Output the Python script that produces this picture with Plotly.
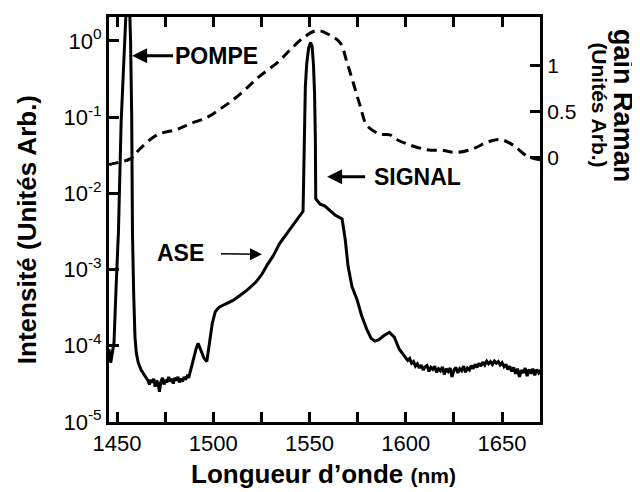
import plotly.graph_objects as go

# ---- Intensity spectrum (solid, left log axis) ----
wl_int = [1445.8, 1446.7, 1447.5, 1448.4, 1449.5, 1450.7, 1452.1, 1453.2, 1454.2, 1455.2, 1456.2,
          1457.0, 1457.6, 1458.0, 1458.6, 1459.3, 1460.0, 1461.0, 1462.5, 1464.0,
          1465.0, 1466.0, 1466.8, 1467.5, 1468.3, 1469.0, 1469.8, 1470.5, 1471.3, 1472.0,
          1472.8, 1473.6, 1474.4, 1475.2, 1476.0, 1476.8, 1477.6, 1478.4, 1479.2, 1480.0,
          1480.8, 1481.6, 1482.4, 1483.2, 1484.0, 1484.8, 1485.6, 1486.4, 1487.2, 1488.0,
          1489.0, 1490.0, 1491.0, 1492.1, 1493.5, 1495.0, 1496.6, 1498.0, 1499.5, 1501.0,
          1503.0, 1506.0, 1510.0, 1514.0, 1518.0, 1522.0, 1525.0, 1528.0, 1531.0, 1534.5,
          1538.0, 1541.0, 1544.0, 1546.6, 1547.0, 1547.3, 1547.8, 1548.5, 1549.5, 1550.5,
          1551.3, 1552.0, 1552.6, 1553.0, 1553.2, 1555.5, 1558.0, 1563.2, 1566.9, 1568.5,
          1570.0, 1572.0, 1574.7, 1577.0, 1579.9, 1582.0, 1584.0, 1586.0, 1588.5, 1591.5,
          1594.0, 1596.6, 1599.0,
          1600, 1601, 1602, 1603, 1604, 1605, 1606, 1607, 1608, 1609, 1610, 1611, 1612, 1613,
          1614, 1615, 1616, 1617, 1618, 1619, 1620, 1621, 1622, 1623, 1624, 1625, 1626, 1627,
          1628, 1629, 1630, 1631, 1632, 1633, 1634, 1635, 1636, 1637, 1638, 1639, 1640, 1641,
          1642, 1643, 1644, 1645, 1646, 1647, 1648, 1649, 1650, 1651, 1652, 1653, 1654, 1655,
          1656, 1657, 1658, 1659, 1660, 1661, 1662, 1663, 1664, 1665, 1666, 1667, 1668, 1669, 1670]
intensity = [9e-5, 6e-5, 8e-5, 1.1e-4, 6e-4, 3.1e-3, 8.5e-2, 0.5, 2.0, 5.0, 5.0,
             1.0, 0.1, 3e-3, 5e-4, 1.3e-4, 8e-5, 6e-5, 4.8e-5, 4.2e-5,
             3.8e-5, 3.5e-5, 3.1e-5, 3.6e-5, 3.3e-5, 3.7e-5, 2.9e-5, 3.5e-5, 3.2e-5, 2.5e-5,
             3.4e-5, 3.8e-5, 3.1e-5, 3.6e-5, 3.3e-5, 3.9e-5, 3.4e-5, 3.7e-5, 3.2e-5, 3.8e-5,
             3.5e-5, 3.9e-5, 3.3e-5, 3.7e-5, 3.4e-5, 3.9e-5, 3.6e-5, 4.0e-5, 3.8e-5, 4.6e-5,
             5.5e-5, 7e-5, 9e-5, 1.08e-4, 8.5e-5, 7e-5, 6.2e-5, 1.1e-4, 2.0e-4, 2.8e-4,
             3.2e-4, 3.5e-4, 3.9e-4, 4.6e-4, 5.5e-4, 6.8e-4, 8.5e-4, 1.15e-3, 1.5e-3, 2.2e-3,
             2.9e-3, 3.7e-3, 4.7e-3, 5.8e-3, 2e-2, 0.08, 0.25, 0.5, 0.8, 0.95,
             0.85, 0.5, 0.2, 0.05, 8.5e-3, 7.2e-3, 6.8e-3, 5.2e-3, 4.6e-3, 2.5e-3,
             1.1e-3, 6e-4, 4e-4, 2.5e-4, 1.6e-4, 1.25e-4, 1.15e-4, 1.2e-4, 1.35e-4, 1.5e-4,
             1.3e-4, 9e-5, 7.5e-5,
             7.0e-5, 6.4e-5, 6.8e-5, 5.9e-5, 6.2e-5, 5.4e-5, 5.8e-5, 5.1e-5, 5.6e-5, 4.8e-5,
             5.3e-5, 5.5e-5, 4.6e-5, 5.2e-5, 4.9e-5, 5.4e-5, 4.5e-5, 5.0e-5, 4.7e-5, 5.3e-5,
             4.2e-5, 5.0e-5, 4.6e-5, 5.1e-5, 3.9e-5, 4.8e-5, 5.2e-5, 4.4e-5, 5.0e-5, 4.7e-5,
             5.4e-5, 4.5e-5, 5.1e-5, 4.8e-5, 5.5e-5, 5.0e-5, 5.7e-5, 5.2e-5, 5.9e-5, 5.4e-5,
             6.1e-5, 5.6e-5, 6.3e-5, 5.8e-5, 6.2e-5, 5.7e-5, 6.3e-5, 5.9e-5, 6.2e-5, 5.6e-5,
             6.0e-5, 5.3e-5, 5.7e-5, 4.9e-5, 5.4e-5, 4.6e-5, 5.2e-5, 4.3e-5, 5.0e-5, 3.9e-5,
             4.8e-5, 4.4e-5, 5.1e-5, 4.0e-5, 4.9e-5, 4.3e-5, 5.0e-5, 4.1e-5, 4.9e-5, 4.4e-5, 4.8e-5]

# ---- Raman gain (dashed, right linear axis) ----
wl_gain = [1445.8, 1446.4, 1456.8, 1461.9, 1470.8, 1481.2, 1487.9, 1496.8, 1503.5, 1510.3,
           1517.5, 1524.3, 1533.1, 1539.9, 1546.6, 1553.9, 1560.6, 1565.8, 1569.5, 1572.6,
           1576.2, 1579.9, 1586.6, 1591.8, 1595.3, 1602.2, 1611.0, 1619.4, 1626.6, 1635.0,
           1642.2, 1649.0, 1655.7, 1663.0, 1669.7]
gain = [-0.08, -0.07, -0.01, 0.10, 0.25, 0.31, 0.37, 0.44, 0.53, 0.63,
        0.76, 0.89, 1.03, 1.17, 1.30, 1.38, 1.33, 1.25, 1.03, 0.82,
        0.57, 0.35, 0.26, 0.25, 0.20, 0.14, 0.09, 0.08, 0.06, 0.10,
        0.17, 0.20, 0.14, 0.02, -0.02]

# ---- Axis ticks ----
y_tickvals = [1e-5, 1e-4, 1e-3, 1e-2, 1e-1, 1]
y_ticktext = ["10<sup>-5</sup>", "10<sup>-4</sup>", "10<sup>-3</sup>",
              "10<sup>-2</sup>", "10<sup>-1</sup>", "10<sup>0</sup>"]
y2_tickvals = [0, 0.5, 1]
y2_ticktext = ["0", "0.5", "1"]

FONT = "Arial, Liberation Sans, Helvetica, sans-serif"

fig = go.Figure()
fig.add_trace(go.Scatter(x=wl_int, y=intensity, mode="lines",
                         line=dict(color="black", width=3), yaxis="y", showlegend=False))
fig.add_trace(go.Scatter(x=wl_gain, y=gain, mode="lines", line_shape="spline",
                         line=dict(color="black", width=3, dash="10px,6px"),
                         yaxis="y2", showlegend=False))

# page body has an 8px margin, so the figure is 8px smaller on each axis
fig.update_layout(
    width=632, height=484,
    margin=dict(l=101, r=100, t=6, b=70),
    paper_bgcolor="white", plot_bgcolor="white",
    font=dict(family=FONT, color="black", size=22),
    xaxis=dict(range=[1445.8, 1669.7], tickmode="linear", tick0=1450, dtick=50,
               ticks="inside", ticklen=10, tickwidth=2.5, tickcolor="black",
               minor=dict(dtick=25, tick0=1450, ticks="inside", ticklen=10, tickwidth=2.5,
                          tickcolor="black", showgrid=False),
               showline=True, linewidth=3, linecolor="black", mirror="ticks",
               showgrid=False, zeroline=False, tickfont=dict(size=22)),
    yaxis=dict(type="log", range=[-5, 0.3125], tickvals=y_tickvals, ticktext=y_ticktext,
               ticks="inside", ticklen=10, tickwidth=2.5, tickcolor="black",
               showline=True, linewidth=3, linecolor="black",
               showgrid=False, zeroline=False, tickfont=dict(size=22)),
    yaxis2=dict(overlaying="y", side="right", range=[-2.86, 1.527],
                tickvals=y2_tickvals, ticktext=y2_ticktext,
                ticks="inside", ticklen=10, tickwidth=2.5, tickcolor="black",
                showline=True, linewidth=3, linecolor="black",
                showgrid=False, zeroline=False, tickfont=dict(size=21)),
)

ann = []
# axis titles
ann.append(dict(xref="paper", yref="paper", x=0.4977, y=-0.1275, xanchor="center", yanchor="middle",
                text="<b>Longueur d’onde </b><b><span style='font-size:21px'>(nm)</span></b>",
                showarrow=False, font=dict(size=26)))
ann.append(dict(xref="paper", yref="paper", x=-0.190, y=0.474, xanchor="center", yanchor="middle",
                text="<b>Intensité (Unités Arb.)</b>", textangle=-90,
                showarrow=False, font=dict(size=26)))
ann.append(dict(xref="paper", yref="paper", x=1.193, y=0.782, xanchor="center", yanchor="middle",
                text="<b>gain Raman</b>", textangle=90, showarrow=False, font=dict(size=27)))
ann.append(dict(xref="paper", yref="paper", x=1.139, y=0.782, xanchor="center", yanchor="middle",
                text="<b>(Unités Arb.)</b>", textangle=90, showarrow=False, font=dict(size=21)))
# labelled arrows (text sits at the arrow tail)
ann.append(dict(xref="x", yref="y", x=1457.8, y=-0.195, text="<b>POMPE</b>",
                showarrow=True, ax=84, ay=0, borderpad=1,
                arrowhead=2, arrowsize=1, arrowwidth=3, arrowcolor="black",
                font=dict(size=23)))
ann.append(dict(xref="x", yref="y", x=1559.1, y=-1.784, text="<b>SIGNAL</b>",
                showarrow=True, ax=90, ay=0, borderpad=8,
                arrowhead=2, arrowsize=1, arrowwidth=3, arrowcolor="black",
                font=dict(size=23)))
ann.append(dict(xref="x", yref="y", x=1525.3, y=-2.80, text="<b>ASE</b>",
                showarrow=True, ax=-82, ay=-1, borderpad=17,
                arrowhead=2, arrowsize=1.6, arrowwidth=1.5, arrowcolor="black",
                font=dict(size=23)))
fig.update_layout(annotations=ann)

fig.write_html("out.html")
